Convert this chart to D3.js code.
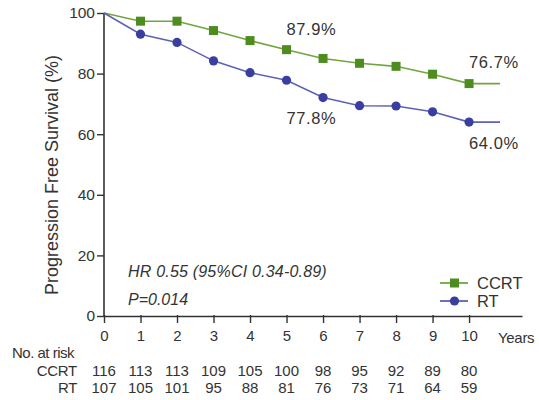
<!DOCTYPE html>
<html>
<head>
<meta charset="utf-8">
<script src="https://cdn.jsdelivr.net/npm/d3@7"></script>
<style>
  html, body { margin: 0; padding: 0; background: #fff; }
  svg { display: block; font-family: "Liberation Sans", Arial, sans-serif; }
</style>
</head>
<body>
<svg id="chart" width="539" height="400"></svg>
<script>
// Follow-up years
const years = [0, 1, 2, 3, 4, 5, 6, 7, 8, 9, 10];
// Progression-free survival (%) at each year
const ccrt = [100, 97.3, 97.3, 94.2, 90.9, 87.9, 85.0, 83.4, 82.4, 79.8, 76.7];
const rt   = [100, 93.0, 90.3, 84.2, 80.3, 77.8, 72.1, 69.4, 69.3, 67.4, 64.0];
// Curves continue flat after the last event
const tailYear = 10.85;
// Numbers at risk
const ccrtRisk = [116, 113, 113, 109, 105, 100, 98, 95, 92, 89, 80];
const rtRisk   = [107, 105, 101, 95, 88, 81, 76, 73, 71, 64, 59];
const yTicks = [0, 20, 40, 60, 80, 100];
// Highlighted survival rates, with the text baseline given relative to the point
const callouts = [
  { series: "CCRT", idx: 5, text: "87.9%", dy: -15 },
  { series: "RT",   idx: 5, text: "77.8%", dy: 44 },
  { series: "CCRT", idx: 10, text: "76.7%", dy: -16 },
  { series: "RT",   idx: 10, text: "64.0%", dy: 27 }
];

const green = "#4f8c1f", greenLine = "#72a540";
const blue = "#3a3f9f", blueLine = "#5d62b3";
const ink = "#333";

const svg = d3.select("#chart");
const x = d3.scaleLinear().domain([0, 11.45]).range([104, 522]);
const y = d3.scaleLinear().domain([0, 100]).range([316, 13]);

// Axes
const yAxis = d3.axisLeft(y).tickValues(yTicks).tickSize(7).tickPadding(2);
const gy = svg.append("g").attr("transform", `translate(${x(0)},0)`).call(yAxis);
gy.select(".domain").attr("d", `M0,${y(100)}V${y(0)}`);
const xAxis = d3.axisBottom(x).tickValues(years).tickSize(7).tickPadding(7).tickSizeOuter(0);
const gx = svg.append("g").attr("transform", `translate(0,${y(0)})`).call(xAxis);
[gx, gy].forEach(g => {
  g.select(".domain").attr("stroke", ink).attr("stroke-width", 1.6);
  g.selectAll(".tick line").attr("stroke", ink).attr("stroke-width", 1.4);
  g.selectAll(".tick text").attr("fill", ink).attr("font-size", 15)
    .attr("font-family", "Liberation Sans, Arial, sans-serif");
});
gy.selectAll(".tick text").attr("font-size", 15.5);
gx.selectAll(".tick line").attr("y1", -1);

svg.append("text").attr("x", 498).attr("y", y(0) + 27)
  .attr("fill", ink).attr("font-size", 15).attr("letter-spacing", -0.3).text("Years");

svg.append("text")
  .attr("transform", `translate(58,175) rotate(-90)`)
  .attr("text-anchor", "middle").attr("fill", ink).attr("font-size", 18)
  .text("Progression Free Survival (%)");

// Survival curves
const line = d3.line().x(d => x(d[0])).y(d => y(d[1]));
function series(vals, lc, mc, shape) {
  const pts = years.map((t, i) => [t, vals[i]]);
  svg.append("path").datum(pts.concat([[tailYear, vals[vals.length - 1]]]))
    .attr("d", line).attr("fill", "none").attr("stroke", lc).attr("stroke-width", 1.6);
  const m = pts.slice(1);
  if (shape === "square") {
    svg.append("g").selectAll("rect").data(m).join("rect")
      .attr("x", d => x(d[0]) - 4.5).attr("y", d => y(d[1]) - 4.5)
      .attr("width", 9).attr("height", 9).attr("fill", mc);
  } else {
    svg.append("g").selectAll("circle").data(m).join("circle")
      .attr("cx", d => x(d[0])).attr("cy", d => y(d[1])).attr("r", 4.6).attr("fill", mc);
  }
}
series(ccrt, greenLine, green, "square");
series(rt, blueLine, blue, "circle");

// Rate callouts
callouts.forEach(c => {
  const v = c.series === "CCRT" ? ccrt[c.idx] : rt[c.idx];
  svg.append("text")
    .attr("x", x(years[c.idx]))
    .attr("y", y(v) + c.dy)
    .attr("fill", ink).attr("font-size", 16.5).attr("letter-spacing", 0.6)
    .text(c.text);
});

// Statistics
svg.append("text").attr("x", 128).attr("y", 277).attr("fill", ink)
  .attr("font-size", 16).attr("font-style", "italic").attr("letter-spacing", 0.2)
  .text("HR 0.55 (95%CI 0.34-0.89)");
svg.append("text").attr("x", 128).attr("y", 305).attr("fill", ink)
  .attr("font-size", 16).attr("font-style", "italic")
  .text("P=0.014");

// Legend
const legend = [
  { name: "CCRT", lc: greenLine, mc: green, shape: "square", yy: 283 },
  { name: "RT", lc: blueLine, mc: blue, shape: "circle", yy: 301 }
];
legend.forEach(l => {
  svg.append("line").attr("x1", 440).attr("x2", 468).attr("y1", l.yy).attr("y2", l.yy)
    .attr("stroke", l.lc).attr("stroke-width", 1.8);
  if (l.shape === "square") {
    svg.append("rect").attr("x", 450).attr("y", l.yy - 4.5).attr("width", 9).attr("height", 9).attr("fill", l.mc);
  } else {
    svg.append("circle").attr("cx", 454.5).attr("cy", l.yy).attr("r", 4.6).attr("fill", l.mc);
  }
  svg.append("text").attr("x", 477).attr("y", l.yy + 6).attr("fill", ink)
    .attr("font-size", 16.5).text(l.name);
});

// Numbers at risk table
svg.append("text").attr("x", 12).attr("y", 358).attr("fill", ink).attr("font-size", 15)
  .attr("letter-spacing", -0.5).text("No. at risk");
[["CCRT", ccrtRisk, 376], ["RT", rtRisk, 393]].forEach(([name, vals, yy]) => {
  svg.append("text").attr("x", 77).attr("y", yy).attr("text-anchor", "end")
    .attr("fill", ink).attr("font-size", 15).attr("letter-spacing", -0.3).text(name);
  svg.append("g").selectAll("text").data(vals).join("text")
    .attr("x", (d, i) => x(years[i])).attr("y", yy).attr("text-anchor", "middle")
    .attr("fill", ink).attr("font-size", 15).text(d => d);
});
</script>
</body>
</html>
